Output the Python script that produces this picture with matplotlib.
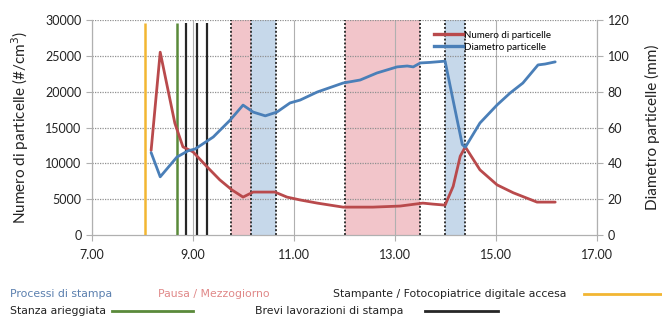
import matplotlib
matplotlib.use("Agg")
import matplotlib.pyplot as plt
from matplotlib.lines import Line2D

plt.rcParams['font.family'] = ['Lato', 'DejaVu Sans']

# particle number (#/cm3), left axis
times_n = [8.17, 8.35, 8.64, 8.80, 9.00, 9.28, 9.53, 9.77, 9.99, 10.19, 10.62,
           10.86, 11.12, 11.46, 11.97, 12.56, 13.10, 13.55, 13.75, 13.99, 14.15,
           14.29, 14.39, 14.68, 15.02, 15.34, 15.81, 16.17]
numero = [11800, 25500, 15600, 12300, 11600, 9500, 7700, 6300, 5300, 6000, 6000,
          5300, 4900, 4460, 3900, 3900, 4050, 4460, 4320, 4180, 6800,
          11000, 12300, 9100, 7000, 5900, 4600, 4600]

# particle diameter, right axis
times_d = [8.17, 8.35, 8.68, 8.90, 9.04, 9.40, 9.73, 9.99, 10.19, 10.43, 10.66,
           10.92, 11.12, 11.46, 11.97, 12.31, 12.64, 13.04, 13.24, 13.36, 13.50,
           13.69, 13.99, 14.15, 14.33, 14.39, 14.68, 15.02, 15.28, 15.53, 15.83,
           15.97, 16.17]
diametro = [46, 32.5, 43.5, 47, 48, 54.7, 64, 72.5, 68.6, 66.5, 68.6,
            73.7, 75.3, 79.8, 84.8, 86.5, 90.4, 93.8, 94.3, 93.8, 96,
            96.3, 97, 75, 50.5, 49, 62.5, 72.6, 79.3, 84.8, 94.9,
            95.4, 96.6]

pause_spans = [(9.75, 10.15), (12.01, 13.50)]
print_spans = [(10.15, 10.64), (13.99, 14.39)]
printer_on = [8.05]
aired = [8.68]
short_jobs = [8.86, 9.08, 9.28]

xticks = [7, 9, 11, 13, 15, 17]
xlabels = ["7.00", "9.00", "11.00", "13.00", "15.00", "17.00"]

red = '#b94a4c'
blue = '#4a7fb8'
grid_c = '#b0b0b0'

fig = plt.figure(figsize=(6.62, 3.16), dpi=100)
ax = fig.add_axes([0.139, 0.256, 0.763, 0.681])
ax2 = ax.twinx()

ax.set_xlim(7, 17)
ax.set_ylim(0, 30000)
ax2.set_ylim(0, 120)

# shaded periods
for a, b in pause_spans:
    ax.axvspan(a, b, color='#f2c5ca', lw=0, zorder=0)
for a, b in print_spans:
    ax.axvspan(a, b, color='#c6d8ea', lw=0, zorder=0)
borders = sorted(set([v for s in pause_spans + print_spans for v in s]))
for x in borders:
    ax.vlines(x, 0, 30000, colors='#333333', linestyles=(0, (1, 1)), lw=1.4, zorder=2)

# grid
ax.set_xticks(xticks)
ax.set_xticklabels(xlabels)
for x in xticks:
    ax.vlines(x, 0, 30000, colors=grid_c, lw=0.8, zorder=1)
for y in range(5000, 30001, 5000):
    ax.hlines(y, 7, 17, colors='#909090', linestyles=(0, (1, 1)), lw=0.9, zorder=1)

# event lines
for x in printer_on:
    ax.vlines(x, 0, 29600, colors='#f2b632', lw=1.8, zorder=3)
for x in aired:
    ax.vlines(x, 0, 29600, colors='#5a8a3a', lw=1.8, zorder=3)
for x in short_jobs:
    ax.vlines(x, 0, 29600, colors='#262626', lw=1.6, zorder=3)

ax.plot(times_n, numero, color=red, lw=2.0, zorder=5, solid_capstyle='round')
ax2.plot(times_d, diametro, color=blue, lw=2.0, zorder=5, solid_capstyle='round')

ax.set_yticks(range(0, 30001, 5000))
ax2.set_yticks(range(0, 121, 20))
for a in (ax, ax2):
    a.tick_params(labelsize=9, length=4, color=grid_c, colors='#222222')
    for s in a.spines.values():
        s.set_color(grid_c)
        s.set_linewidth(0.8)
    a.spines['top'].set_visible(False)
ax.tick_params(axis='x', pad=6)

ax.set_ylabel("Numero di particelle (#/cm$^3$)", fontsize=11, color='#222222', labelpad=10)
ax2.set_ylabel("Diametro particelle (mm)", fontsize=11, color='#222222', labelpad=11)

handles = [Line2D([], [], color=red, lw=2.4), Line2D([], [], color=blue, lw=2.4)]
ax.legend(handles, ["Numero di particelle", "Diametro particelle"], loc='upper left',
          bbox_to_anchor=(0.66, 0.99), frameon=False, fontsize=7,
          handlelength=3.0, handletextpad=0.1, labelspacing=0.3)

# bottom key
fs = 7.8
kf = ['DejaVu Sans']
fig.text(10 / 662, 1 - 294 / 316, "Processi di stampa", color='#5a7fae', fontsize=fs, va='center', family=kf)
fig.text(158 / 662, 1 - 294 / 316, "Pausa / Mezzogiorno", color='#e08888', fontsize=fs, va='center', family=kf)
fig.text(333 / 662, 1 - 294 / 316, "Stampante / Fotocopiatrice digitale accesa", color='#222222',
         fontsize=fs, va='center', family=kf)
fig.text(10 / 662, 1 - 311 / 316, "Stanza arieggiata", color='#222222', fontsize=fs, va='center', family=kf)
fig.text(255 / 662, 1 - 311 / 316, "Brevi lavorazioni di stampa", color='#222222', fontsize=fs,
         va='center', family=kf)
fig.add_artist(Line2D([584 / 662, 1.0], [1 - 294 / 316] * 2, color='#f2b632', lw=2, transform=fig.transFigure))
fig.add_artist(Line2D([112 / 662, 193 / 662], [1 - 311 / 316] * 2, color='#5a8a3a', lw=2, transform=fig.transFigure))
fig.add_artist(Line2D([425 / 662, 498 / 662], [1 - 311 / 316] * 2, color='#262626', lw=2, transform=fig.transFigure))

fig.savefig("out.png", dpi=100)
